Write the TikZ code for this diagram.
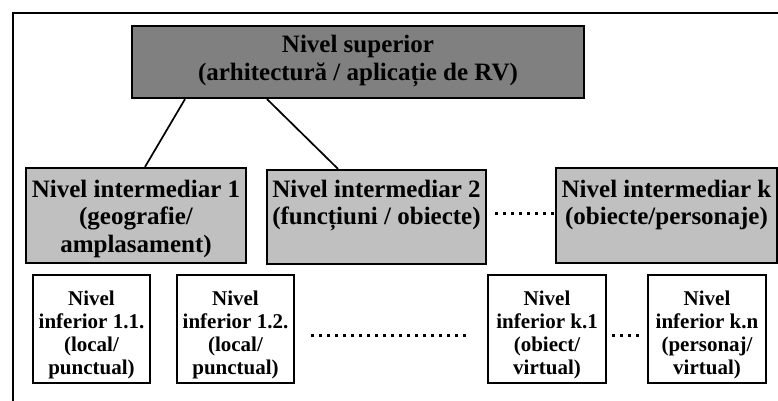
\documentclass[tikz,border=0pt]{standalone}
\usepackage{fontspec}
\setmainfont{Liberation Serif}
\definecolor{supfill}{RGB}{128,128,128}
\definecolor{midfill}{RGB}{192,192,192}
\begin{document}
\begin{tikzpicture}[x=1pt,y=-1pt,
  box/.style={draw=black, line width=2.2pt, rectangle, inner sep=0pt},
  supbox/.style={box, fill=supfill},
  midbox/.style={box, fill=midfill},
  lowbox/.style={box, fill=white},
  bigtxt/.style={inner sep=0pt, anchor=base, font=\bfseries\fontsize{25}{27.5}\selectfont},
  smalltxt/.style={inner sep=0pt, anchor=base, font=\bfseries\fontsize{21}{23}\selectfont},
  conn/.style={draw=black, line width=1.7pt},
  dots/.style={draw=black, line width=3pt, dash pattern=on 3pt off 5pt}
]
\useasboundingbox (0,0) rectangle (778,401);
\clip (0,0) rectangle (778,401);
\fill[white] (0,0) rectangle (778,401);

% outer frame (only the top and left sides fall inside the page)
\draw[line width=1.7pt] (13,13) -- (800,13);
\draw[line width=2.6pt] (13,12.2) -- (13,420);

% top level
\node[supbox, minimum width=452, minimum height=72] (sup) at (358,62) {};
\node[bigtxt] (supT) at (358,53) {\begin{tabular}[t]{@{}c@{}}Nivel superior\\(arhitectură / aplicație de RV)\end{tabular}};

% intermediate level
\node[midbox, minimum width=220, minimum height=95] (int1) at (136,215.5) {};
\node[midbox, minimum width=219, minimum height=94] (int2) at (376.5,217) {};
\node[midbox, minimum width=221, minimum height=95] (intk) at (666.5,215.5) {};
\node[bigtxt] (int1T) at (136,197) {\begin{tabular}[t]{@{}c@{}}Nivel intermediar 1\\(geografie/\\amplasament)\end{tabular}};
\node[bigtxt] (int2T) at (376.5,197) {\begin{tabular}[t]{@{}c@{}}Nivel intermediar 2\\(funcțiuni / obiecte)\end{tabular}};
\node[bigtxt] (intkT) at (666.5,197) {\begin{tabular}[t]{@{}c@{}}Nivel intermediar k\\(obiecte/personaje)\end{tabular}};

% lower level
\node[lowbox, minimum width=117, minimum height=108] (l11) at (91.5,329) {};
\node[lowbox, minimum width=117, minimum height=108] (l12) at (235.5,329) {};
\node[lowbox, minimum width=118, minimum height=108] (lk1) at (547,329) {};
\node[lowbox, minimum width=118, minimum height=108] (lkn) at (707,329) {};
\node[smalltxt] (l11T) at (91.5,305) {\begin{tabular}[t]{@{}c@{}}Nivel\\inferior 1.1.\\(local/\\punctual)\end{tabular}};
\node[smalltxt] (l12T) at (235.5,305) {\begin{tabular}[t]{@{}c@{}}Nivel\\inferior 1.2.\\(local/\\punctual)\end{tabular}};
\node[smalltxt] (lk1T) at (547,305) {\begin{tabular}[t]{@{}c@{}}Nivel\\inferior k.1\\(obiect/\\virtual)\end{tabular}};
\node[smalltxt] (lknT) at (707,305) {\begin{tabular}[t]{@{}c@{}}Nivel\\inferior k.n\\(personaj/\\virtual)\end{tabular}};

% connectors
\draw[conn] (sup.south -| 185,0) -- (int1.north -| 145,0);
\draw[conn] (sup.south -| 267,0) -- (int2.north -| 338,0);

% ellipses between boxes
\draw[dots, shorten <=8pt, shorten >=1pt] (int2.east |- 0,213) -- (intk.west |- 0,213);
\draw[dots, shorten <=16pt, shorten >=17pt] (l12.east |- 0,335) -- (lk1.west |- 0,335);
\draw[dots, shorten <=5pt, shorten >=6pt] (lk1.east |- 0,335) -- (lkn.west |- 0,335);
\end{tikzpicture}
\end{document}
